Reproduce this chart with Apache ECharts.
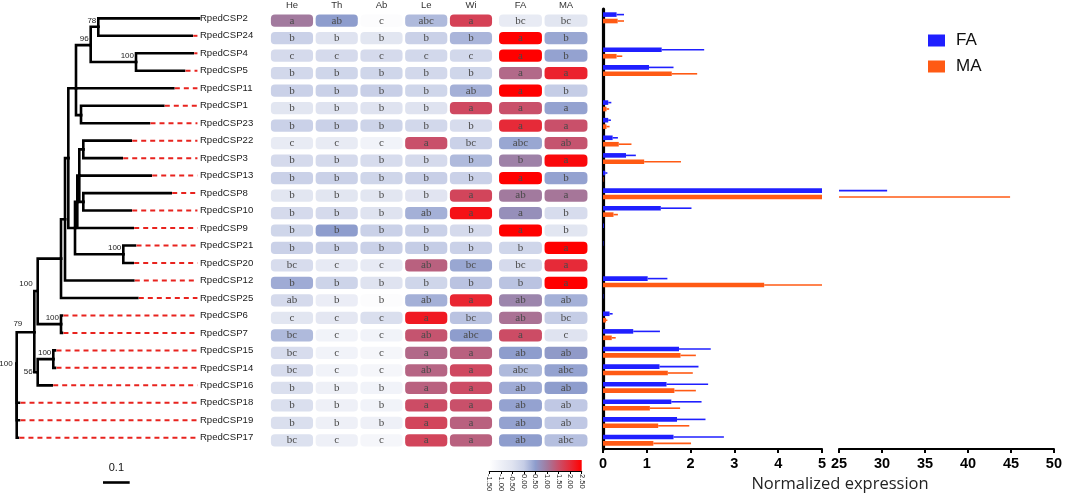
<!DOCTYPE html>
<html><head><meta charset="utf-8">
<script src="https://cdn.jsdelivr.net/npm/echarts@6/dist/echarts.min.js"></script>
<style>html,body{margin:0;padding:0;background:#fff}#c{width:1065px;height:504px}</style>
</head><body><div id="c"></div>
<script>
// ---------------- DATA ----------------
const genes = ['RpedCSP2','RpedCSP24','RpedCSP4','RpedCSP5','RpedCSP11','RpedCSP1','RpedCSP23','RpedCSP22','RpedCSP3','RpedCSP13','RpedCSP8','RpedCSP10','RpedCSP9','RpedCSP21','RpedCSP20','RpedCSP12','RpedCSP25','RpedCSP6','RpedCSP7','RpedCSP15','RpedCSP14','RpedCSP16','RpedCSP18','RpedCSP19','RpedCSP17'];
const tissues = ['He','Th','Ab','Le','Wi'];
const antennae = ['FA','MA'];
// heat values per gene: He, Th, Ab, Le, Wi, FA, MA
const heatValues = [
 [1.0,0.5,-1.4,0.2,1.7,-0.8,-0.6],
 [-0.1,-0.5,-0.6,-0.1,0.25,2.5,0.4],
 [-0.3,-0.3,-0.3,-0.25,-0.25,2.5,0.45],
 [-0.25,-0.2,-0.2,-0.25,-0.2,1.2,2.1],
 [-0.1,-0.1,-0.05,-0.2,0.3,2.5,0.0],
 [-0.6,-0.5,-0.5,-0.5,1.6,1.5,0.45],
 [-0.1,-0.1,-0.15,-0.25,-0.35,2.0,1.5],
 [-0.8,-0.8,-1.1,1.5,-0.1,0.4,1.45],
 [-0.3,-0.3,-0.35,-0.3,0.2,0.9,2.4],
 [-0.1,-0.1,-0.2,-0.05,-0.1,2.5,0.45],
 [-0.6,-0.6,-0.6,-0.55,1.65,1.0,1.05],
 [-0.3,-0.3,-0.5,0.3,2.3,0.7,-0.35],
 [-0.2,0.5,-0.1,-0.1,-0.3,2.5,-0.6],
 [-0.1,-0.1,-0.1,0.0,-0.1,-0.2,2.5],
 [-0.35,-0.75,-0.75,1.3,0.4,-0.3,2.0],
 [0.35,-0.15,-0.5,-0.2,0.1,0.1,2.5],
 [-0.3,-0.9,-1.4,0.3,2.05,0.85,0.3],
 [-0.6,-0.65,-0.4,2.2,0.1,1.1,0.0],
 [0.2,-1.1,-1.1,1.45,0.5,1.55,-0.5],
 [-0.35,-1.1,-1.2,1.2,1.3,0.5,0.55],
 [-0.35,-1.1,-1.2,1.25,1.6,0.2,0.45],
 [-0.4,-1.0,-1.1,1.3,1.55,0.35,0.5],
 [-0.4,-1.0,-1.1,1.55,1.5,0.45,0.05],
 [-0.4,-1.0,-1.0,1.65,1.3,0.45,0.05],
 [-0.45,-1.0,-1.2,1.65,1.3,0.5,0.15]
];
const heatLetters = [
 ['a','ab','c','abc','a','bc','bc'],
 ['b','b','b','b','b','a','b'],
 ['c','c','c','c','c','a','b'],
 ['b','b','b','b','b','a','a'],
 ['b','b','b','b','ab','a','b'],
 ['b','b','b','b','a','a','a'],
 ['b','b','b','b','b','a','a'],
 ['c','c','c','a','bc','abc','ab'],
 ['b','b','b','b','b','b','a'],
 ['b','b','b','b','b','a','b'],
 ['b','b','b','b','a','ab','a'],
 ['b','b','b','ab','a','a','b'],
 ['b','b','b','b','b','a','b'],
 ['b','b','b','b','b','b','a'],
 ['bc','c','c','ab','bc','bc','a'],
 ['b','b','b','b','b','b','a'],
 ['ab','b','b','ab','a','ab','ab'],
 ['c','c','c','a','bc','ab','bc'],
 ['bc','c','c','ab','abc','a','c'],
 ['bc','c','c','a','a','ab','ab'],
 ['bc','c','c','ab','a','abc','abc'],
 ['b','b','b','a','a','ab','ab'],
 ['b','b','b','a','a','ab','ab'],
 ['b','b','b','a','a','ab','ab'],
 ['bc','c','c','a','a','ab','abc']
];
const colorbarTicks = [-1.5, 2.5];
const faMean = [0.31,0,1.34,1.05,0,0.12,0.12,0.22,0.525,0.05,17.5,1.32,0.02,0.01,0,1.02,0.01,0.15,0.69,1.735,1.29,1.45,1.56,1.69,1.61];
const faErr  = [0.17,0,0.97,0.56,0,0.07,0.06,0.12,0.225,0.05,13.1,0.7,0,0,0,0.45,0,0.07,0.61,0.725,0.89,0.95,0.69,0.65,1.15];
const maMean = [0.335,0,0.31,1.57,0,0.08,0.08,0.36,0.94,0.01,21,0.24,0,0,0,3.68,0,0.07,0.2,1.77,1.48,1.63,1.07,1.26,1.15];
const maErr  = [0.145,0,0.13,0.58,0,0.06,0.07,0.29,0.84,0,23.9,0.1,0,0,0,1.32,0,0.03,0.09,0.35,0.57,0.49,0.69,0.71,0.86];
// tree: [id, parent, branch depth, row position, bootstrap]
const treeNodes = [
 ['root',null,0.0064,19.75,'100'],
 ['nP','root',0.0724,17.96,'79'],
 ['n100b','nP',0.0851,15.6,'100'],
 ['n56','nP',0.0851,20.25,'56'],
 ['n15_14','n56',0.1436,19.5,'100'],
 ['n6_7','n100b',0.1725,17.5,'100'],
 ['nH','n100b',0.1725,13.75,''],
 ['nF','nH',0.1875,11.5,''],
 ['nE','nF',0.1999,8,''],
 ['nG','nE',0.225,12,''],
 ['nC','nG',0.2336,10.5,''],
 ['nB','nC',0.2411,9,''],
 ['n22_3','nB',0.2561,7.5,''],
 ['n8_10','nB',0.2561,10.5,''],
 ['n21_20','nG',0.4061,13.5,'100'],
 ['nA','nE',0.2287,4,''],
 ['n96','nA',0.2838,1.53,'96'],
 ['n78','n96',0.3123,0.48,'78'],
 ['n100a','n96',0.4537,2.5,'100'],
 ['n1_23','nA',0.2475,5.54,''],
 ['RpedCSP2','n78',0.69,0,''],
 ['RpedCSP24','n78',0.6626,1,''],
 ['RpedCSP4','n100a',0.6663,2,''],
 ['RpedCSP5','n100a',0.6337,3,''],
 ['RpedCSP11','nA',0.5936,4,''],
 ['RpedCSP1','n1_23',0.556,5,''],
 ['RpedCSP23','n1_23',0.5024,6,''],
 ['RpedCSP22','n22_3',0.4338,7,''],
 ['RpedCSP3','n22_3',0.4001,8,''],
 ['RpedCSP13','nB',0.5088,9,''],
 ['RpedCSP8','n8_10',0.5838,10,''],
 ['RpedCSP10','n8_10',0.4338,11,''],
 ['RpedCSP9','nC',0.4413,12,''],
 ['RpedCSP21','n21_20',0.45,13,''],
 ['RpedCSP20','n21_20',0.4413,14,''],
 ['RpedCSP12','nF',0.4436,15,''],
 ['RpedCSP25','nH',0.4586,16,''],
 ['RpedCSP6','n6_7',0.176,17,''],
 ['RpedCSP7','n6_7',0.176,18,''],
 ['RpedCSP15','n15_14',0.15,19,''],
 ['RpedCSP14','n15_14',0.15,20,''],
 ['RpedCSP16','n56',0.1376,21,''],
 ['RpedCSP18','root',0.015,22,''],
 ['RpedCSP19','root',0.015,23,''],
 ['RpedCSP17','root',0.011,24,'']
];
const scaleBar = [0.33, 0.1];

// ---------------- STYLE ----------------
const tipX = 0.684;
const heatColors = ['#ffffff','#eef0f7','#dfe3f0','#c5cde6','#8e9dcd','#a27a9e','#c9506a','#e62a38','#ff0000'];
const labelOffsets = {nP:[-12,-8], n56:[-5,0], n100b:[-5,-7], root:[-4,0]};
const nodeMap = {}; treeNodes.forEach(n => nodeMap[n[0]] = n);
const SANS = '"Liberation Sans", Arial, sans-serif';

function treeRender(params, api) {
  const n = treeNodes[params.dataIndex];
  const [id, parent, x, y, sup] = n;
  const kids = [];
  const c = api.coord([x, y]);
  if (parent) {
    const p = nodeMap[parent];
    const a = api.coord([p[2], p[3]]);
    const b = api.coord([p[2], y]);
    kids.push({type:'polyline', shape:{points:[a,b,c]}, style:{stroke:'#000', lineWidth:2.6, fill:null, lineCap:'square', lineJoin:'miter'}});
  }
  if (genes.indexOf(id) >= 0) {
    const t = api.coord([tipX, y]);
    if (t[0] - c[0] > 2) {
      kids.push({type:'line', shape:{x1:c[0]+1.5, y1:c[1], x2:t[0], y2:c[1]}, style:{stroke:'#e8231e', lineWidth:2, lineDash:[5,4]}});
    }
    kids.push({type:'text', x: t[0]+2.5, y: c[1], style:{text:id, align:'left', verticalAlign:'middle', font:'9.6px ' + SANS, fill:'#1a1a1a'}});
  }
  if (sup) {
    const off = labelOffsets[id] || [-2,-6];
    kids.push({type:'text', x: c[0]+off[0], y: c[1]+off[1], style:{text:sup, align:'right', verticalAlign:'middle', font:'8px ' + SANS, fill:'#222'}});
  }
  return {type:'group', children:kids};
}

function scaleRender(params, api) {
  const s = api.value(0), l = api.value(1);
  const a = api.coord([s, 24.5]);
  const b = api.coord([s + l, 24.5]);
  return {type:'group', children:[
    {type:'line', shape:{x1:a[0], y1:a[1]+36, x2:b[0], y2:a[1]+36}, style:{stroke:'#000', lineWidth:2.6}},
    {type:'text', x:(a[0]+b[0])/2, y:a[1]+21.5, style:{text:String(l), align:'center', verticalAlign:'middle', font:'11px ' + SANS, fill:'#111'}}
  ]};
}

function heatRender(colOffset) {
  return function(params, api) {
    const col = api.value(0), row = api.value(1);
    const c = api.coord([col, row]);
    const s = api.size([1, 1]);
    const w = s[0] - 2.6, h = s[1] * 0.7;
    return {type:'group', children:[
      {type:'rect', shape:{x:c[0]-w/2, y:c[1]-h/2, width:w, height:h, r:4}, style:{fill:api.visual('color')}},
      {type:'text', x:c[0], y:c[1], style:{text:heatLetters[row][col+colOffset], align:'center', verticalAlign:'middle', font:'11px "Liberation Serif", serif', fill:'#4a4a4a'}}
    ]};
  };
}

function colorbarRender(params, api) {
  const a = api.coord([api.value(0), 0]);
  const b = api.coord([api.value(1), 1]);
  const stops = heatColors.map((c, i) => ({offset: i/(heatColors.length-1), color: c}));
  return {type:'rect', shape:{x:a[0], y:b[1], width:b[0]-a[0], height:a[1]-b[1]},
    style:{fill:{type:'linear', x:0, y:0, x2:1, y2:0, colorStops:stops}}};
}

function errRender(offset, color) {
  return function(params, api) {
    const cs = params.coordSys;
    const p1 = api.coord([api.value(0), api.value(1)]);
    const p2 = api.coord([api.value(2), api.value(1)]);
    const x1 = Math.max(cs.x, Math.min(cs.x + cs.width, p1[0]));
    const x2 = Math.max(cs.x, Math.min(cs.x + cs.width, p2[0]));
    if (x2 - x1 < 0.5) return null;
    const y = p1[1] + offset;
    return {type:'line', shape:{x1:x1, y1:y, x2:x2, y2:y}, style:{stroke:color, lineWidth:1.6}};
  };
}

const tissueData = [], antennaData = [];
heatValues.forEach((r, i) => {
  r.forEach((v, j) => { if (j < 5) tissueData.push([j, i, v]); else antennaData.push([j-5, i, v]); });
});
const faErrData = faMean.map((m, i) => [m, i, m + faErr[i]]);
const maErrData = maMean.map((m, i) => [m, i, m + maErr[i]]);
const BLUE = '#1f1fff', ORANGE = '#ff5a14';
const rowIdx = genes.map((g, i) => i);

const hiddenCat = {type:'category', data:rowIdx, inverse:true, show:false};
const option = {
  animation: false,
  backgroundColor: '#fff',
  grid: [
    {left:15, top:9.6, width:186.7, height:436.9},
    {left:269.6, top:10, width:223.75, height:439},
    {left:497.75, top:10, width:91, height:439},
    {left:489.3, top:460, width:92.4, height:11},
    {left:603, top:9, width:219, height:440},
    {left:839, top:9, width:219, height:440}
  ],
  xAxis: [
    {gridIndex:0, type:'value', min:0, max:0.7, show:false},
    {gridIndex:1, type:'category', data:tissues, position:'top', axisLine:{show:false}, axisTick:{show:false},
      axisLabel:{margin:2, fontSize:9.5, color:'#333', fontFamily:SANS}},
    {gridIndex:2, type:'category', data:antennae, position:'top', axisLine:{show:false}, axisTick:{show:false},
      axisLabel:{margin:2, fontSize:9.5, color:'#333', fontFamily:SANS}},
    {gridIndex:3, type:'value', min:colorbarTicks[0], max:colorbarTicks[1], interval:0.5, splitLine:{show:false},
      axisLine:{show:true, lineStyle:{color:'#000', width:1.2}}, axisTick:{show:true, length:3, lineStyle:{color:'#000'}},
      axisLabel:{rotate:-90, fontSize:7.5, margin:3, color:'#222', fontFamily:SANS, formatter: v => v.toFixed(2)}},
    {gridIndex:4, type:'value', min:0, max:5, interval:1, splitLine:{show:false},
      axisLine:{show:true, lineStyle:{color:'#000', width:2}}, axisTick:{show:true, length:4, lineStyle:{color:'#000', width:2}},
      axisLabel:{fontSize:14.5, fontWeight:'bold', color:'#000', margin:7, fontFamily:SANS}},
    {gridIndex:5, type:'value', min:25, max:50, interval:5, splitLine:{show:false},
      axisLine:{show:true, lineStyle:{color:'#000', width:2}}, axisTick:{show:true, length:4, lineStyle:{color:'#000', width:2}},
      axisLabel:{fontSize:14.5, fontWeight:'bold', color:'#000', margin:7, fontFamily:SANS}}
  ],
  yAxis: [
    {gridIndex:0, type:'value', min:-0.5, max:24.5, inverse:true, show:false},
    Object.assign({gridIndex:1}, hiddenCat),
    Object.assign({gridIndex:2}, hiddenCat),
    {gridIndex:3, type:'value', min:0, max:1, show:false},
    {gridIndex:4, type:'category', data:rowIdx, inverse:true, axisLine:{show:true, onZero:false, lineStyle:{color:'#000', width:3.2}},
      axisTick:{show:false}, axisLabel:{show:false}},
    Object.assign({gridIndex:5}, hiddenCat)
  ],
  visualMap: {type:'continuous', show:false, min:-1.5, max:2.5, dimension:2, seriesIndex:[1,2], inRange:{color:heatColors}},
  legend: {data:['FA','MA'], orient:'vertical', left:923, top:27, itemWidth:17, itemHeight:12, itemGap:9, icon:'rect',
    textStyle:{fontSize:17, color:'#111', fontFamily:SANS, padding:[0,0,0,6]}},
  graphic: [{type:'text', x:840, y:484, style:{text:'Normalized expression', align:'center', verticalAlign:'middle', font:'16.5px "Open Sans", sans-serif', fill:'#222'}}],
  series: [
    {type:'custom', name:'tree', xAxisIndex:0, yAxisIndex:0, renderItem:treeRender, data:treeNodes.map(n => [n[2], n[3]]), clip:false, silent:true},
    {type:'custom', name:'heatT', xAxisIndex:1, yAxisIndex:1, renderItem:heatRender(0), data:tissueData, encode:{x:0, y:1}},
    {type:'custom', name:'heatA', xAxisIndex:2, yAxisIndex:2, renderItem:heatRender(5), data:antennaData, encode:{x:0, y:1}},
    {type:'custom', name:'colorbar', xAxisIndex:3, yAxisIndex:3, renderItem:colorbarRender, data:[colorbarTicks]},
    {type:'bar', name:'FA', xAxisIndex:4, yAxisIndex:4, data:faMean, barWidth:4.6, barGap:'40%', itemStyle:{color:BLUE}},
    {type:'bar', name:'MA', xAxisIndex:4, yAxisIndex:4, data:maMean, barWidth:4.6, barGap:'40%', itemStyle:{color:ORANGE}},
    {type:'custom', name:'FAerr', xAxisIndex:4, yAxisIndex:4, renderItem:errRender(-3.2, BLUE), data:faErrData, encode:{x:[0,2], y:1}},
    {type:'custom', name:'MAerr', xAxisIndex:4, yAxisIndex:4, renderItem:errRender(3.2, ORANGE), data:maErrData, encode:{x:[0,2], y:1}},
    {type:'custom', name:'FAerr2', xAxisIndex:5, yAxisIndex:5, renderItem:errRender(-3.2, BLUE), data:faErrData, encode:{x:[0,2], y:1}},
    {type:'custom', name:'MAerr2', xAxisIndex:5, yAxisIndex:5, renderItem:errRender(3.2, ORANGE), data:maErrData, encode:{x:[0,2], y:1}},
    {type:'custom', name:'scale', xAxisIndex:0, yAxisIndex:0, renderItem:scaleRender, data:[scaleBar], clip:false, silent:true}
  ]
};
const chart = echarts.init(document.getElementById('c'), null, {renderer:'canvas'});
chart.setOption(option);
</script>
</body></html>
